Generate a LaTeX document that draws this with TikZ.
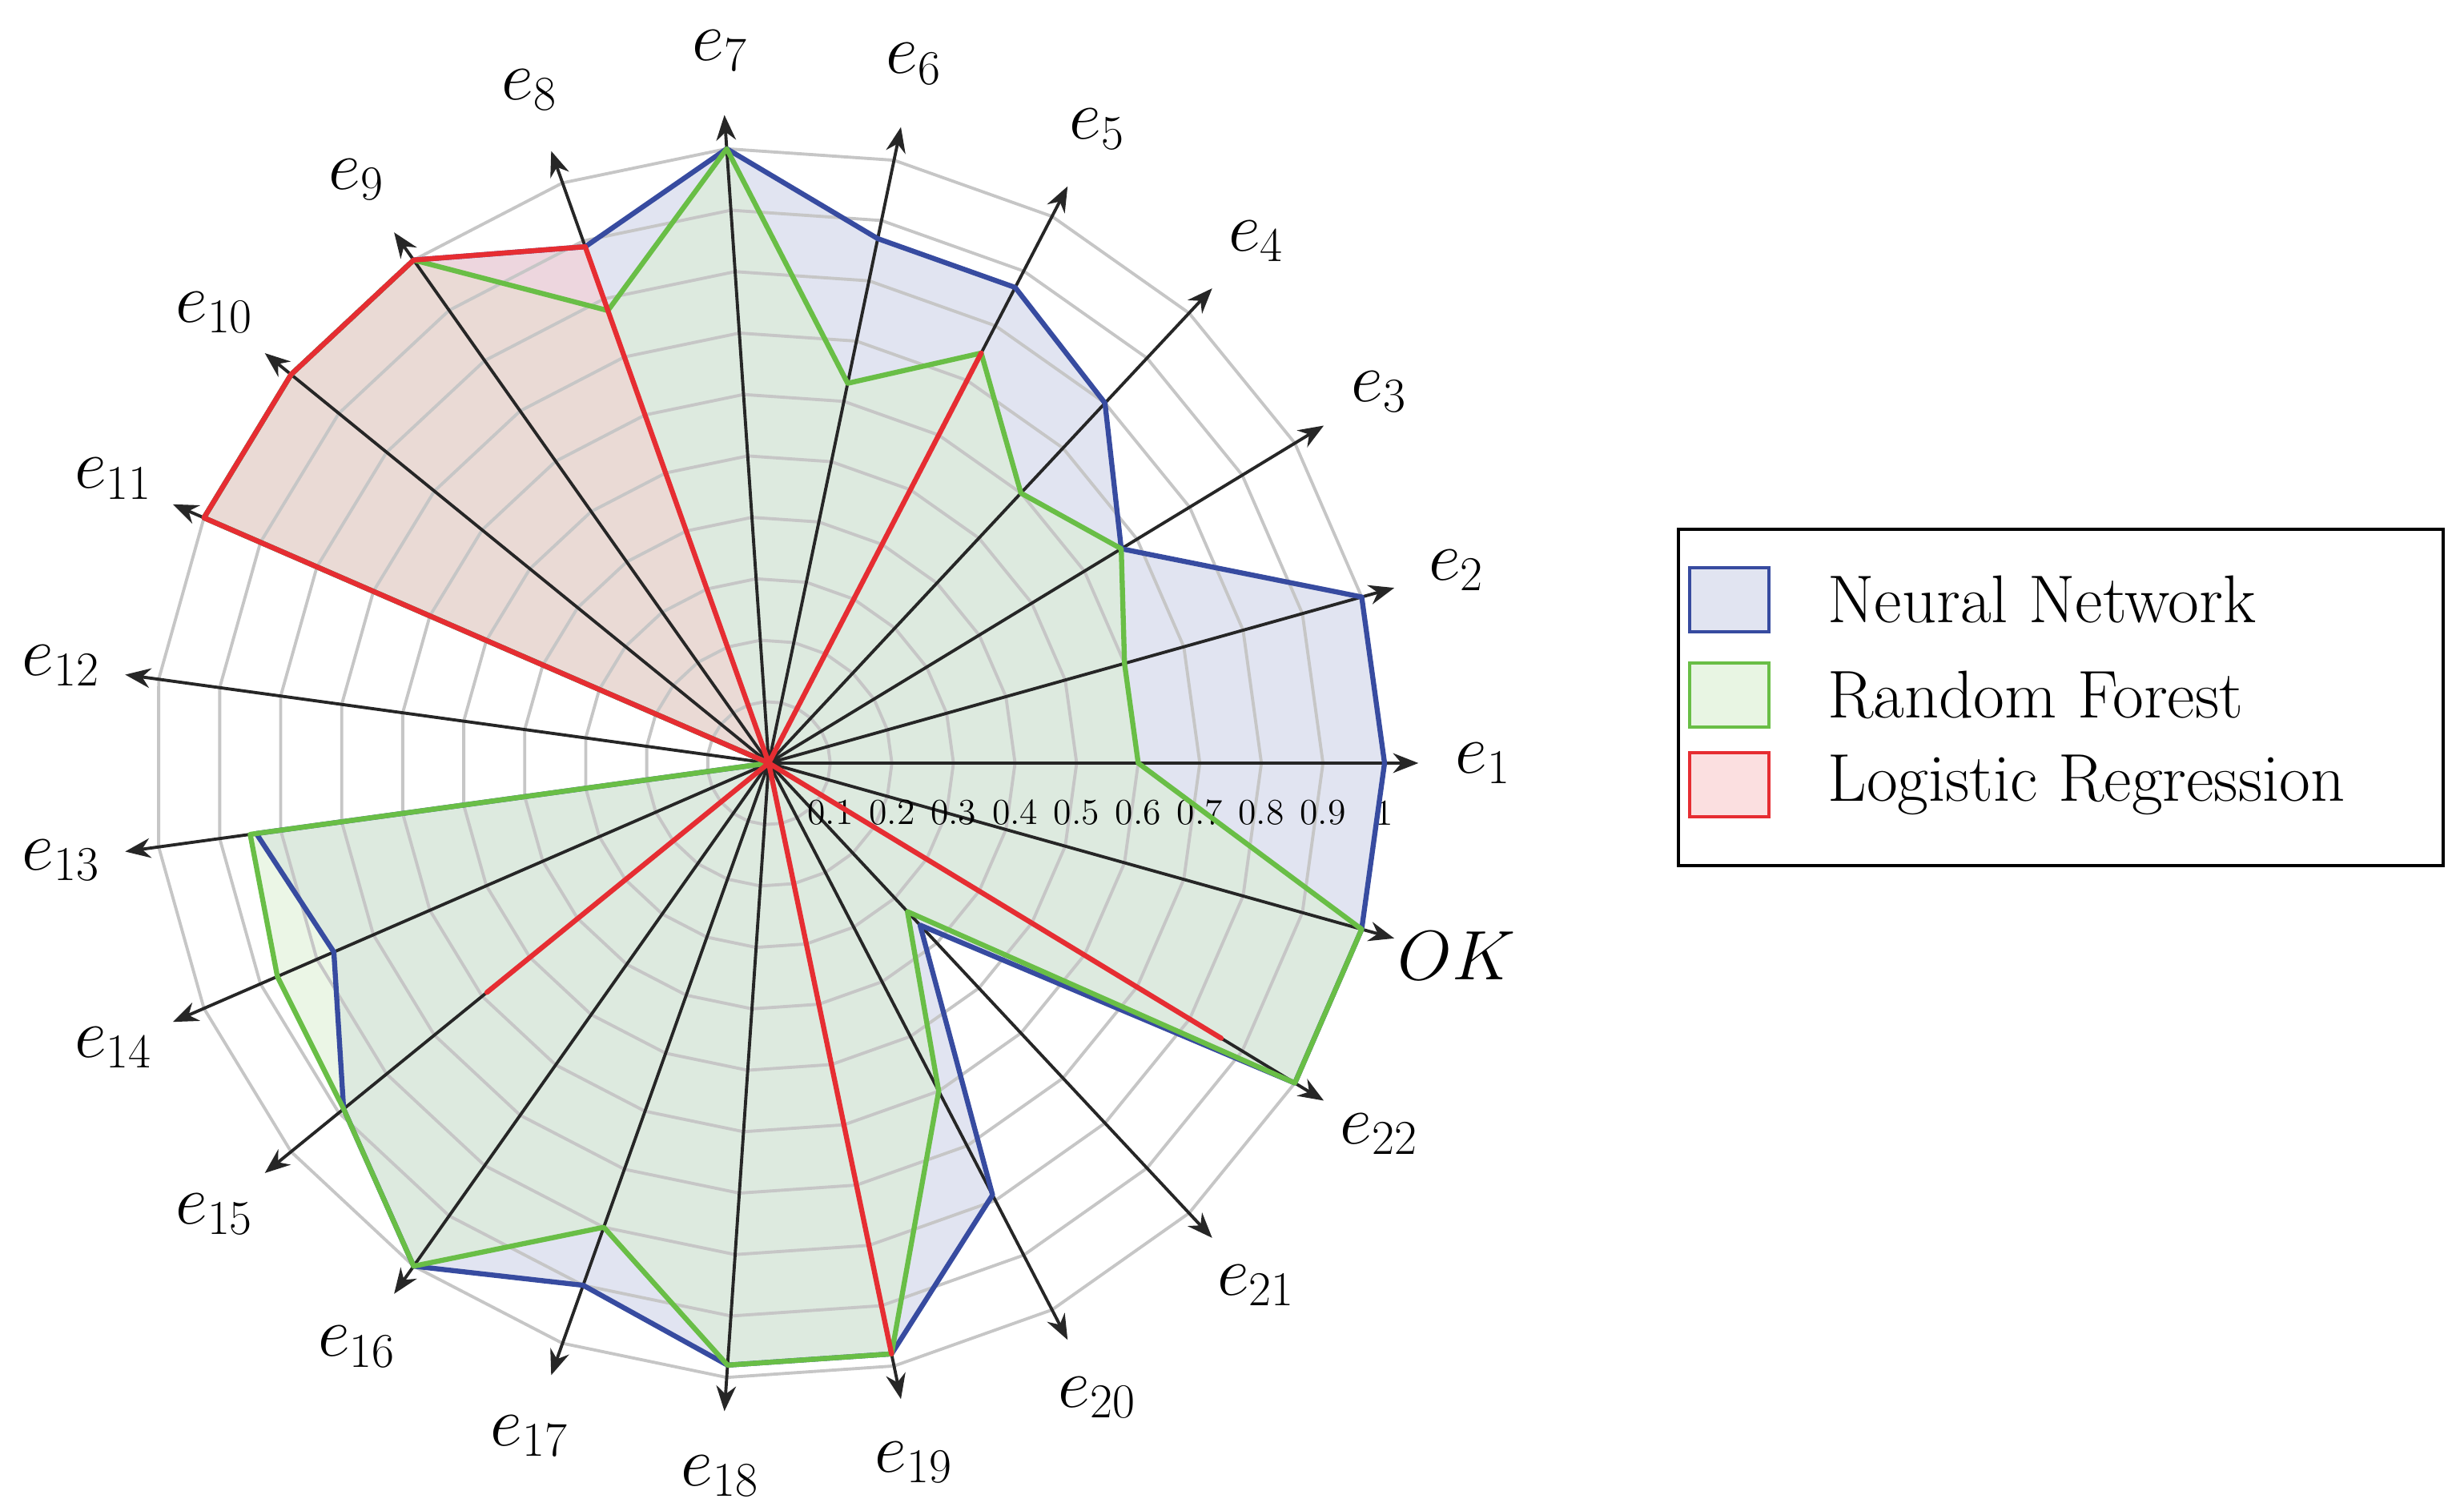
\documentclass[tikz,border=0pt]{standalone}
\usetikzlibrary{arrows.meta}
\begin{document}
\begin{tikzpicture}
\def\R{7.69}
\pgfmathsetmacro\A{360/23}
\useasboundingbox (-9.60,-9.24) rectangle (21.17,9.53);
\definecolor{nnc}{RGB}{55,75,160}
\definecolor{rfc}{RGB}{105,190,70}
\definecolor{lrc}{RGB}{230,45,50}
\tikzset{
 grid/.style={gray!45,line width=1.1pt},
 ax/.style={black!85,line width=1.1pt,-{Stealth[length=9pt,width=7pt]}},
 nn/.style={nnc,line width=1.8pt,line join=round},
 rf/.style={rfc,line width=1.8pt,line join=round},
 lr/.style={lrc,line width=1.8pt,line join=round},
 lab/.style={font=\fontsize{25}{30}\selectfont},
 tick/.style={font=\fontsize{13}{15}\selectfont},
 leg/.style={font=\fontsize{24}{28}\selectfont,anchor=west},
}
\def\NN{1,1,.67,.8,.87,.87,1,.89,1,1,1,0,.84,.77,.89,1,.9,.98,.98,.79,.36,1,1}
\def\RF{.6,.6,.67,.6,.75,.63,1,.78,1,1,1,0,.85,.87,.89,1,.8,.98,.98,.6,.33,1,1}
\def\LR{0,0,0,0,.75,0,0,.89,1,1,1,0,0,0,.59,0,0,0,.98,0,0,.86,0}
% fills
\fill[nnc!25,fill opacity=.6] (0:\R) \foreach \v [count=\i from 0] in \NN {-- (\i*\A:\v*\R)} -- cycle;
\fill[rfc!25,fill opacity=.55] (0:.6*\R) \foreach \v [count=\i from 0] in \RF {-- (\i*\A:\v*\R)} -- cycle;
\fill[lrc!25,fill opacity=.5] (0,0) \foreach \v [count=\i from 0] in \LR {-- (\i*\A:\v*\R)} -- cycle;
% grid
\foreach \k in {1,...,10}{
 \draw[grid] (0:\k*\R/10) \foreach \i in {1,...,22}{-- (\i*\A:\k*\R/10)} -- cycle;
}
% axes and labels
\foreach \n [count=\i from 0] in {e_{1},e_{2},e_{3},e_{4},e_{5},e_{6},e_{7},e_{8},e_{9},e_{10},e_{11},e_{12},e_{13},e_{14},e_{15},e_{16},e_{17},e_{18},e_{19},e_{20},e_{21},e_{22},OK}{
 \coordinate (o\i) at (0,0);
 \coordinate (t\i) at (\i*\A:1.055*\R);
 \draw[ax] (o\i) -- (t\i);
 \node[lab] (l\i) at (\i*\A:1.16*\R) {$\n$};
}
\foreach \t [count=\k] in {0.1,0.2,0.3,0.4,0.5,0.6,0.7,0.8,0.9,1}{
 \node[tick] (tk\k) at (\k*\R/10,-0.62) {\t};
}
% outlines
\draw[nn] (0:\R) \foreach \v [count=\i from 0] in \NN {-- (\i*\A:\v*\R)} -- cycle;
\draw[rf] (0:.6*\R) \foreach \v [count=\i from 0] in \RF {-- (\i*\A:\v*\R)} -- cycle;
\draw[lr] (0,0) \foreach \v [count=\i from 0] in \LR {-- (\i*\A:\v*\R)} -- cycle;
% legend
\draw[line width=1.2pt] (11.36,-1.28) rectangle (20.91,2.92);
\draw[nnc,line width=1.4pt,fill=nnc!15] (11.5,1.64) rectangle (12.49,2.44);
\draw[rfc,line width=1.4pt,fill=rfc!15] (11.5,0.45) rectangle (12.49,1.25);
\draw[lrc,line width=1.4pt,fill=lrc!15] (11.5,-0.67) rectangle (12.49,0.13);
\node[leg] (n1) at (13.1,2.04) {Neural Network};
\node[leg] (n2) at (13.1,0.85) {Random Forest};
\node[leg] (n3) at (13.1,-0.27) {Logistic Regression};
\end{tikzpicture}
\end{document}
